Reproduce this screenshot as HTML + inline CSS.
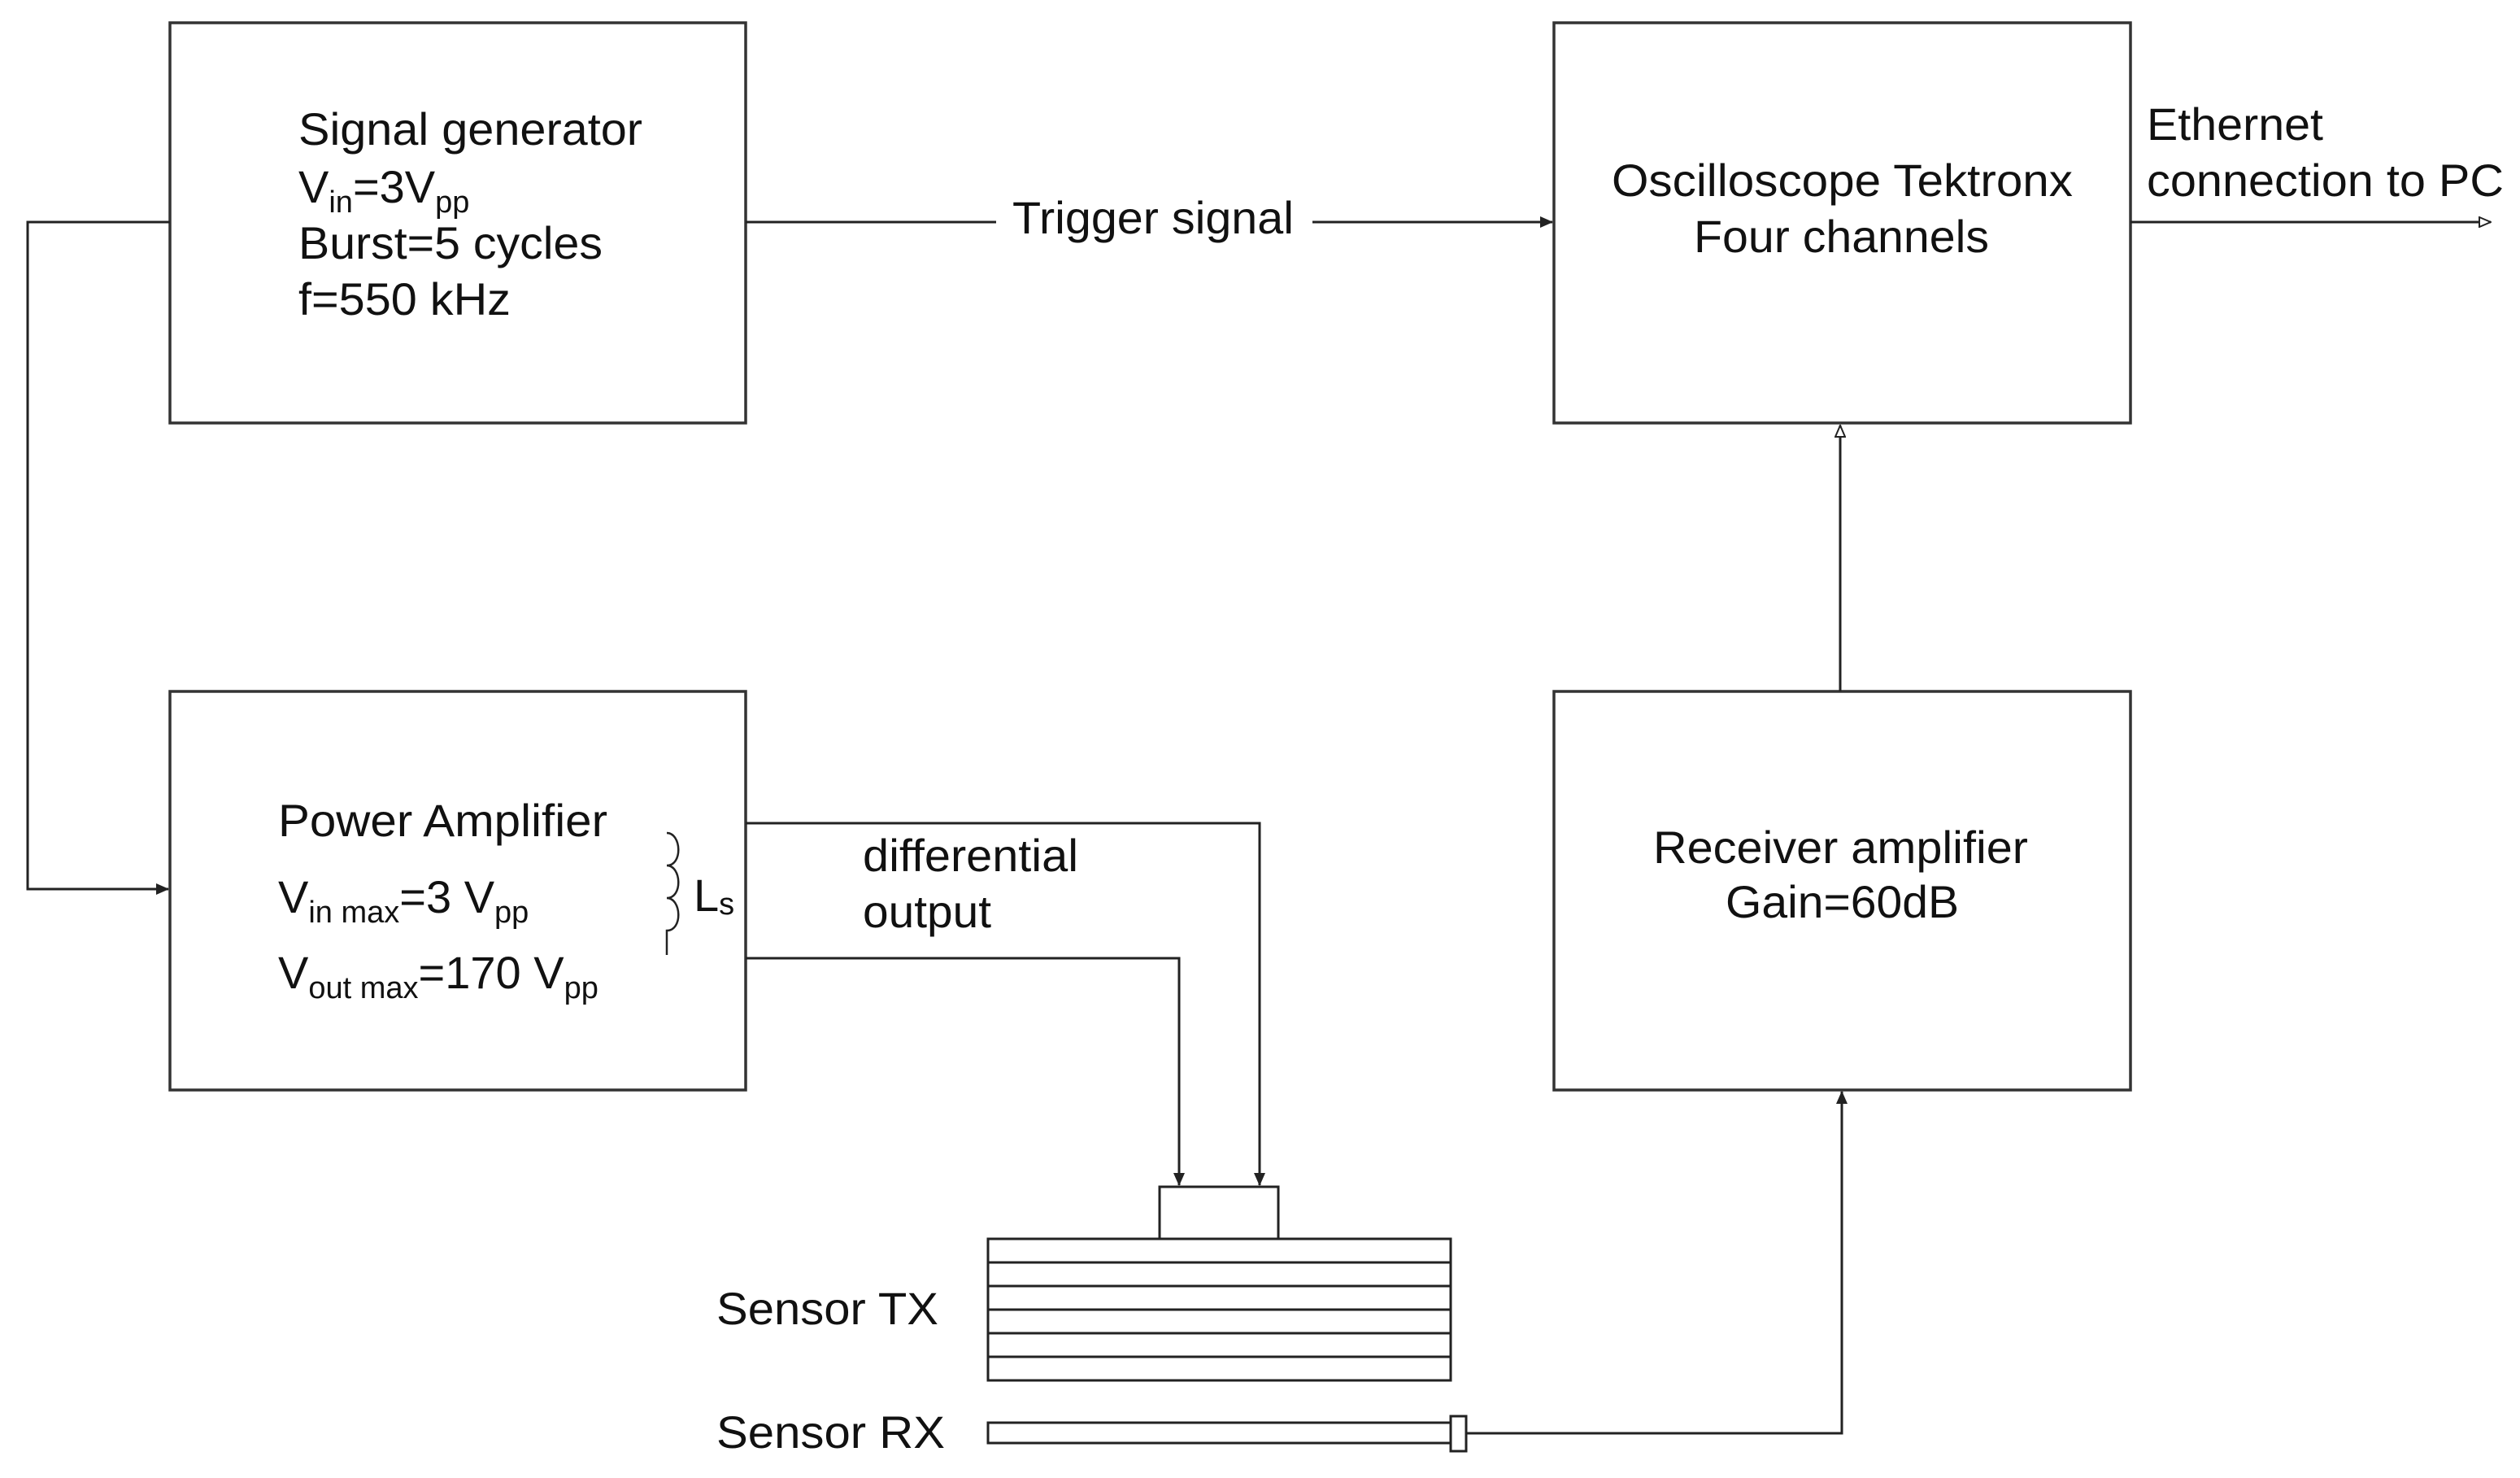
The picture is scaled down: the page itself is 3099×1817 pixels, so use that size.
<!DOCTYPE html>
<html><head><meta charset="utf-8"><style>
html,body{margin:0;padding:0;background:#fff}
svg{display:block}
text{font-family:"Liberation Sans",Arial,sans-serif;fill:#111}
</style></head><body>
<svg width="3099" height="1817" viewBox="0 0 3099 1817" xmlns="http://www.w3.org/2000/svg">
<defs>
<marker id="a" markerWidth="16" markerHeight="16" refX="15" refY="8" orient="auto" markerUnits="userSpaceOnUse">
<path d="M0,1 L16,8 L0,15 z" fill="#222"/></marker>
<marker id="o" markerWidth="16" markerHeight="14" refX="15" refY="7" orient="auto" markerUnits="userSpaceOnUse">
<path d="M1,1 L15,7 L1,13 z" fill="#fff" stroke="#222" stroke-width="2"/></marker>
</defs>
<g fill="none" stroke="#333" stroke-width="3.5">
<rect x="209" y="28" width="708" height="492"/>
<rect x="1911" y="28" width="709" height="492"/>
<rect x="209" y="850" width="708" height="490"/>
<rect x="1911" y="850" width="709" height="490"/>
</g>
<g fill="none" stroke="#222" stroke-width="3">
<polyline points="209,273 34,273 34,1093 207,1093" marker-end="url(#a)"/>
<line x1="917" y1="273" x2="1225" y2="273"/>
<line x1="1614" y1="273" x2="1909" y2="273" marker-end="url(#a)"/>
<line x1="2620" y1="273" x2="3063" y2="273" marker-end="url(#o)"/>
<line x1="2263" y1="850" x2="2263" y2="523" marker-end="url(#o)"/>
<polyline points="917,1012 1549,1012 1549,1457" marker-end="url(#a)"/>
<polyline points="917,1178 1450,1178 1450,1457" marker-end="url(#a)"/>
<polyline points="1803,1762 2265,1762 2265,1342" marker-end="url(#a)"/>
<path d="M820,1024 c18,0 20,40 0,40 c18,0 20,40 0,40 c18,0 20,40 0,40 v30" stroke-width="2.5"/>
</g>
<g fill="#fff" stroke="#222" stroke-width="3">
<rect x="1426" y="1459" width="146" height="64"/>
<rect x="1215" y="1523" width="569" height="174"/>
<line x1="1215" y1="1552" x2="1784" y2="1552"/>
<line x1="1215" y1="1581" x2="1784" y2="1581"/>
<line x1="1215" y1="1610" x2="1784" y2="1610"/>
<line x1="1215" y1="1639" x2="1784" y2="1639"/>
<line x1="1215" y1="1668" x2="1784" y2="1668"/>
<rect x="1215" y="1749" width="569" height="25"/>
<rect x="1784" y="1741" width="19" height="43"/>
</g>
<g font-size="56">
<text x="367" y="178" textLength="423" lengthAdjust="spacingAndGlyphs">Signal generator</text>
<text x="367" y="249">V<tspan font-size="38" dy="12">in</tspan><tspan dy="-12">=3V</tspan><tspan font-size="38" dy="12">pp</tspan></text>
<text x="367" y="318" textLength="374" lengthAdjust="spacingAndGlyphs">Burst=5 cycles</text>
<text x="367" y="387" textLength="261" lengthAdjust="spacingAndGlyphs">f=550 kHz</text>
<text x="1245" y="287" textLength="346" lengthAdjust="spacingAndGlyphs">Trigger signal</text>
<text x="1982" y="241" textLength="567" lengthAdjust="spacingAndGlyphs">Oscilloscope Tektronx</text>
<text x="2083" y="310" textLength="363" lengthAdjust="spacingAndGlyphs">Four channels</text>
<text x="2640" y="172" textLength="217" lengthAdjust="spacingAndGlyphs">Ethernet</text>
<text x="2640" y="241" textLength="439" lengthAdjust="spacingAndGlyphs">connection to PC</text>
<text x="2033" y="1061" textLength="461" lengthAdjust="spacingAndGlyphs">Receiver amplifier</text>
<text x="2122" y="1128" textLength="287" lengthAdjust="spacingAndGlyphs">Gain=60dB</text>
<text x="342" y="1028" textLength="405" lengthAdjust="spacingAndGlyphs">Power Amplifier</text>
<text x="342" y="1122">V<tspan font-size="38" dy="12">in max</tspan><tspan dy="-12">=3 V</tspan><tspan font-size="38" dy="12">pp</tspan></text>
<text x="342" y="1215">V<tspan font-size="38" dy="12">out max</tspan><tspan dy="-12">=170 V</tspan><tspan font-size="38" dy="12">pp</tspan></text>
<text x="853" y="1120">L<tspan font-size="38" dy="4">s</tspan></text>
<text x="1061" y="1071" textLength="265" lengthAdjust="spacingAndGlyphs">differential</text>
<text x="1061" y="1140" textLength="158" lengthAdjust="spacingAndGlyphs">output</text>
<text x="881" y="1628" textLength="273" lengthAdjust="spacingAndGlyphs">Sensor TX</text>
<text x="881" y="1780" textLength="281" lengthAdjust="spacingAndGlyphs">Sensor RX</text>
</g>
</svg>
</body></html>
